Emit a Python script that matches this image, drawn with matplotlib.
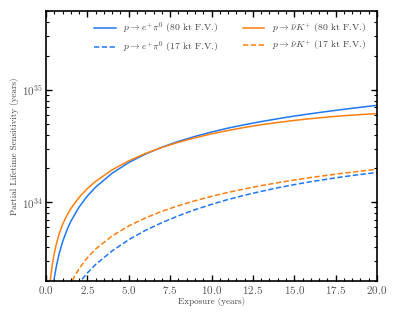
import numpy as np
import matplotlib
matplotlib.use("Agg")
import matplotlib.pyplot as plt
from matplotlib.ticker import MultipleLocator, LogLocator, NullFormatter

plt.rcParams['font.family'] = 'serif'
plt.rcParams['font.serif'] = ['cmr10', 'DejaVu Serif']
plt.rcParams['mathtext.fontset'] = 'cm'
plt.rcParams['axes.formatter.use_mathtext'] = True

# exposure (years) and log10 of partial lifetime sensitivity (years)
t_epi_80 = [0.45, 0.5, 0.65, 0.8, 1.0, 1.25, 1.5, 2.0, 2.5, 3.0, 4.0, 5.0, 6.0, 7.0, 8.0, 9.0, 10.0,
            11.0, 12.0, 13.0, 14.0, 15.0, 16.0, 17.0, 18.0, 19.0, 20.0]
l_epi_80 = [33.278, 33.328, 33.451, 33.546, 33.648, 33.749, 33.831, 33.958, 34.056, 34.135, 34.259,
            34.353, 34.428, 34.489, 34.541, 34.585, 34.624, 34.659, 34.689, 34.717, 34.742, 34.766,
            34.787, 34.807, 34.826, 34.844, 34.861]

t_epi_17 = [1.9, 2.0, 2.25, 2.5, 3.0, 4.0, 5.0, 6.0, 7.0, 8.0, 9.0, 10.0, 11.0, 12.0, 13.0, 14.0,
            15.0, 16.0, 17.0, 18.0, 19.0, 20.0]
l_epi_17 = [33.260, 33.281, 33.329, 33.373, 33.448, 33.569, 33.668, 33.750, 33.819, 33.880, 33.934,
            33.982, 34.025, 34.063, 34.097, 34.129, 34.157, 34.183, 34.206, 34.228, 34.247, 34.265]

t_nuk_80 = [0.2, 0.25, 0.3, 0.4, 0.5, 0.65, 0.8, 1.0, 1.25, 1.5, 2.0, 2.5, 3.0, 4.0, 5.0, 6.0, 7.0,
            8.0, 9.0, 10.0, 11.0, 12.0, 13.0, 14.0, 15.0, 16.0, 17.0, 18.0, 19.0, 20.0]
l_nuk_80 = [33.210, 33.292, 33.359, 33.465, 33.547, 33.644, 33.721, 33.803, 33.880, 33.944, 34.044,
            34.122, 34.186, 34.289, 34.368, 34.433, 34.487, 34.533, 34.573, 34.608, 34.638, 34.665,
            34.689, 34.709, 34.727, 34.743, 34.757, 34.769, 34.779, 34.788]

t_nuk_17 = [1.4, 1.5, 1.75, 2.0, 2.5, 3.0, 4.0, 5.0, 6.0, 7.0, 8.0, 9.0, 10.0, 11.0, 12.0, 13.0,
            14.0, 15.0, 16.0, 17.0, 18.0, 19.0, 20.0]
l_nuk_17 = [33.242, 33.277, 33.350, 33.411, 33.508, 33.585, 33.702, 33.790, 33.861, 33.920, 33.970,
            34.014, 34.053, 34.088, 34.119, 34.148, 34.174, 34.198, 34.220, 34.240, 34.259, 34.277,
            34.294]

labels = [r'$p\rightarrow e^{+}\pi^{0}$ (80 kt F.V.)',
          r'$p\rightarrow e^{+}\pi^{0}$ (17 kt F.V.)',
          r'$p\rightarrow \bar{\nu}K^{+}$ (80 kt F.V.)',
          r'$p\rightarrow \bar{\nu}K^{+}$ (17 kt F.V.)']

blue = '#1f77f4'
orange = '#ff7f0e'

fig = plt.figure(figsize=(3.99, 3.19), dpi=100)
ax = fig.add_axes([0.1153, 0.1191, 0.8296, 0.8464])

ax.plot(t_epi_80, 10 ** np.array(l_epi_80), color=blue, lw=1.1, label=labels[0])
ax.plot(t_epi_17, 10 ** np.array(l_epi_17), color=blue, lw=1.1, ls='--', dashes=(3.5, 1.6), label=labels[1])
ax.plot(t_nuk_80, 10 ** np.array(l_nuk_80), color=orange, lw=1.1, label=labels[2])
ax.plot(t_nuk_17, 10 ** np.array(l_nuk_17), color=orange, lw=1.1, ls='--', dashes=(3.5, 1.6), label=labels[3])

ax.set_yscale('log')
ax.set_xlim(0, 20)
ax.set_ylim(2e33, 5e35)
ax.xaxis.set_major_locator(MultipleLocator(2.5))
ax.xaxis.set_minor_locator(MultipleLocator(0.5))
ax.yaxis.set_major_locator(LogLocator(base=10, numticks=10))
ax.yaxis.set_minor_locator(LogLocator(base=10, subs=np.arange(2, 10), numticks=10))
ax.yaxis.set_minor_formatter(NullFormatter())
ax.tick_params(which='both', direction='in', top=True, right=True, labelsize=8,
               colors='black', labelcolor='#555555', pad=2)
ax.tick_params(which='major', length=4, width=1.0)
ax.tick_params(which='minor', length=2, width=0.8)
for s in ax.spines.values():
    s.set_linewidth(1.2)

ax.set_xlabel('Exposure (years)', fontsize=6.5, color='#444444', labelpad=1)
ax.set_ylabel('Partial Lifetime Sensitivity (years)', fontsize=6.5, color='#444444', labelpad=2)

leg = ax.legend(loc='upper left', ncol=2, frameon=False, fontsize=7.0,
                handlelength=2.2, handletextpad=0.75, columnspacing=2.5,
                labelspacing=0.35, borderpad=0, borderaxespad=0,
                labelcolor='#444444', bbox_to_anchor=(0.146, 0.965))

fig.savefig('out.png', dpi=100)
